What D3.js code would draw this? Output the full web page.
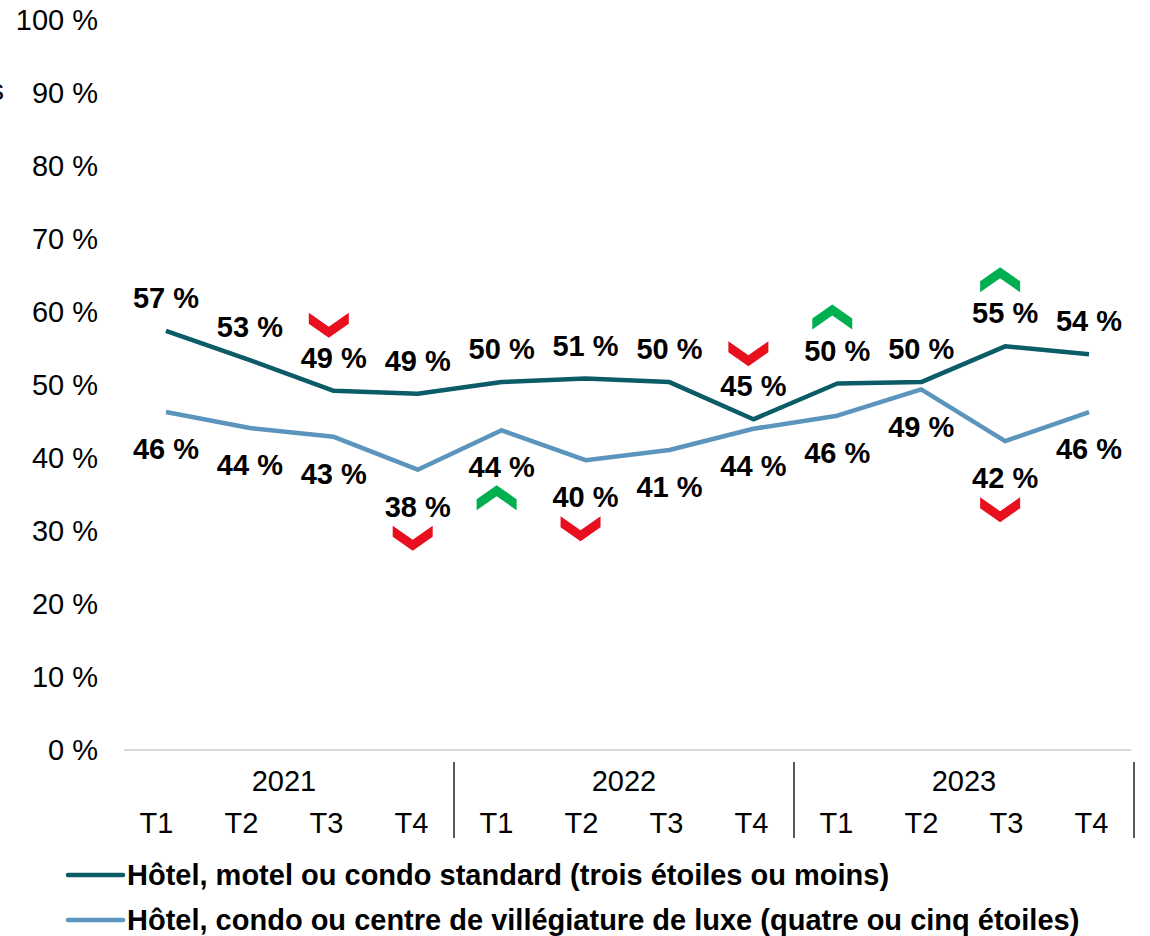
<!DOCTYPE html>
<html>
<head>
<meta charset="utf-8">
<script src="https://cdn.jsdelivr.net/npm/d3@7"></script>
<style>
  body { margin: 0; background: #fff; }
  svg { display: block; font-family: "Liberation Sans", Arial, sans-serif; }
</style>
</head>
<body>
<svg id="chart" width="1150" height="936"></svg>
<script>
// Data
const years = ['2021', '2022', '2023'];
const quarters = ['T1', 'T2', 'T3', 'T4'];
const seriesNames = [
  'Hôtel, motel ou condo standard (trois étoiles ou moins)',
  'Hôtel, condo ou centre de villégiature de luxe (quatre ou cinq étoiles)'
];
const standardValues = [57.4, 53.4, 49.2, 48.8, 50.4, 50.9, 50.4, 45.3, 50.2, 50.4, 55.3, 54.2];
const luxeValues = [46.3, 44.1, 42.9, 38.4, 43.8, 39.7, 41.1, 44.0, 45.8, 49.4, 42.3, 46.3];
const seriesColors = ['#0b5c66', '#5b95bd'];
const yTicks = [0, 10, 20, 30, 40, 50, 60, 70, 80, 90, 100];
// significant changes: series index, category index, direction
const changeMarkers = [
  { s: 0, i: 2, dir: 'down' },
  { s: 1, i: 3, dir: 'down' },
  { s: 1, i: 4, dir: 'up' },
  { s: 1, i: 5, dir: 'down' },
  { s: 0, i: 7, dir: 'down' },
  { s: 0, i: 8, dir: 'up' },
  { s: 0, i: 10, dir: 'up' },
  { s: 1, i: 10, dir: 'down' }
];

const categories = [];
years.forEach(y => quarters.forEach(q => categories.push(y + '-' + q)));
const series = [standardValues, luxeValues];
const fs = 29;

const svg = d3.select('#chart');

// Scales
const x = d3.scaleBand().domain(categories).range([124, 1131]);
const xLabel = d3.scaleBand().domain(categories).range([114, 1134]);
const y = d3.scaleLinear().domain([0, 100]).range([750, 20]);

// clipped axis title fragment at the left edge
svg.append('text')
  .attr('x', 4).attr('y', 100)
  .attr('text-anchor', 'end')
  .attr('font-size', fs)
  .text('s');

// Y axis labels
svg.append('g').selectAll('text')
  .data(yTicks)
  .join('text')
  .attr('x', 98)
  .attr('y', d => y(d))
  .attr('dy', '0.35em')
  .attr('text-anchor', 'end')
  .attr('font-size', fs)
  .attr('fill', '#000')
  .text(d => d + ' %');

// Baseline
svg.append('line')
  .attr('x1', 124).attr('x2', 1131)
  .attr('y1', y(0)).attr('y2', y(0))
  .attr('stroke', '#d9d9d9')
  .attr('stroke-width', 2);

// Category labels
svg.append('g').selectAll('text')
  .data(categories)
  .join('text')
  .attr('x', d => xLabel(d) + xLabel.bandwidth() / 2)
  .attr('y', 823)
  .attr('dy', '0.35em')
  .attr('text-anchor', 'middle')
  .attr('font-size', fs)
  .text(d => d.split('-')[1]);

// Year labels + separators
const groupW = xLabel.bandwidth() * quarters.length;
svg.append('g').selectAll('text')
  .data(years)
  .join('text')
  .attr('x', d => xLabel(d + '-T1') + groupW / 2)
  .attr('y', 781)
  .attr('dy', '0.35em')
  .attr('text-anchor', 'middle')
  .attr('font-size', fs)
  .text(d => d);

svg.append('g').selectAll('line')
  .data(years)
  .join('line')
  .attr('x1', d => xLabel(d + '-T4') + xLabel.bandwidth())
  .attr('x2', d => xLabel(d + '-T4') + xLabel.bandwidth())
  .attr('y1', 762).attr('y2', 838)
  .attr('stroke', '#000')
  .attr('stroke-width', 1.3);

// Lines
const cx = i => x(categories[i]) + x.bandwidth() / 2;
const line = d3.line()
  .x((d, i) => cx(i))
  .y(d => y(d));

svg.append('g').selectAll('path')
  .data(series)
  .join('path')
  .attr('d', d => line(d))
  .attr('fill', 'none')
  .attr('stroke', (d, i) => seriesColors[i])
  .attr('stroke-width', 4.5)
  .attr('stroke-linejoin', 'round');

// Data labels: standard above, luxe below
const labelOffset = [-33, 37];
series.forEach((vals, s) => {
  svg.append('g').selectAll('text')
    .data(vals)
    .join('text')
    .attr('x', (d, i) => cx(i))
    .attr('y', d => y(d) + labelOffset[s])
    .attr('dy', '0.35em')
    .attr('text-anchor', 'middle')
    .attr('font-size', fs)
    .attr('font-weight', 'bold')
    .text(d => Math.round(d) + ' %');
});

// Chevrons
const downChevron = 'M-20,-12 L0,2 L20,-12 L20,-1 L0,13 L-20,-1 Z';
const upChevron = 'M-20,12 L0,-2 L20,12 L20,1 L0,-13 L-20,1 Z';
svg.append('g').selectAll('path')
  .data(changeMarkers)
  .join('path')
  .attr('d', d => d.dir === 'down' ? downChevron : upChevron)
  .attr('transform', d => {
    const ly = y(series[d.s][d.i]) + labelOffset[d.s];
    const cy = d.s === 0 ? ly - 33 : ly + 31;
    return `translate(${cx(d.i) - 5},${cy})`;
  })
  .attr('fill', d => d.dir === 'down' ? '#e8101e' : '#00b050');

// Legend
const legend = svg.append('g').selectAll('g')
  .data(seriesNames)
  .join('g')
  .attr('transform', (d, i) => `translate(0,${875 + i * 45})`);

legend.append('line')
  .attr('x1', 68).attr('x2', 123)
  .attr('stroke', (d, i) => seriesColors[i])
  .attr('stroke-width', 4.5)
  .attr('stroke-linecap', 'round');

legend.append('text')
  .attr('x', 127)
  .attr('dy', '0.35em')
  .attr('font-size', fs)
  .attr('font-weight', 'bold')
  .text(d => d);
</script>
</body>
</html>
